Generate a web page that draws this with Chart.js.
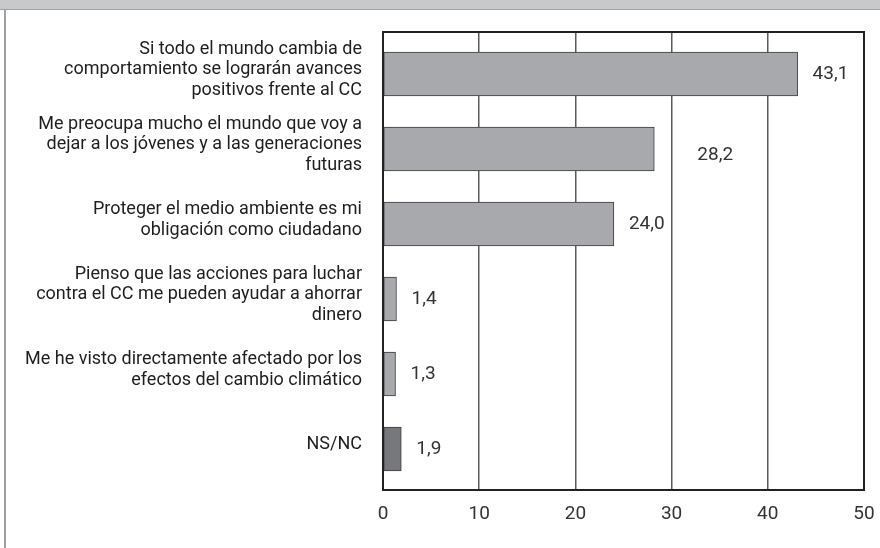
<!DOCTYPE html>
<html><head><meta charset="utf-8">
<script src="https://cdn.jsdelivr.net/npm/chart.js@4/dist/chart.umd.min.js"></script>
<style>
html,body{margin:0;padding:0;background:#fff;}
#wrap{position:relative;width:880px;height:548px;overflow:hidden;}
#band{position:absolute;left:0;top:0;width:880px;height:9px;background:#c8c9cb;border-bottom:1px solid #9fa0a2;}
#side{position:absolute;left:4px;top:10px;width:2px;height:538px;background:#a0a0a0;}
canvas{position:absolute;left:0;top:0;}
</style></head><body>
<div id="wrap"><canvas id="c" width="880" height="548" style="width:880px;height:548px"></canvas><div id="band"></div><div id="side"></div></div>
<script>
const categories = [
  ["Si todo el mundo cambia de", "comportamiento se lograrán avances", "positivos frente al CC"],
  ["Me preocupa mucho el mundo que voy a", "dejar a los jóvenes y a las generaciones", "futuras"],
  ["Proteger el medio ambiente es mi", "obligación como ciudadano"],
  ["Pienso que las acciones para luchar", "contra el CC me pueden ayudar a ahorrar", "dinero"],
  ["Me he visto directamente afectado por los", "efectos del cambio climático"],
  "NS/NC"
];
const values = [43.1, 28.2, 24.0, 1.4, 1.3, 1.9];
const valueLabels = ["43,1", "28,2", "24,0", "1,4", "1,3", "1,9"];
const xMin = 0, xMax = 50, xStep = 10;

const FONT = "Roboto, 'Liberation Sans', sans-serif";

const framePlugin = {
  id: 'frame',
  afterDraw(chart) {
    const a = chart.chartArea, ctx = chart.ctx;
    ctx.save();
    ctx.strokeStyle = '#222';
    ctx.lineWidth = 2;
    ctx.strokeRect(a.left, a.top, a.right - a.left, a.bottom - a.top);
    ctx.restore();
  }
};

const valueLabelPlugin = {
  id: 'valueLabels',
  afterDatasetsDraw(chart, args, opts) {
    const ctx = chart.ctx;
    const meta = chart.getDatasetMeta(0);
    ctx.save();
    ctx.font = "19px " + FONT;
    ctx.fillStyle = '#333';
    ctx.textAlign = 'left';
    ctx.textBaseline = 'middle';
    meta.data.forEach((el, i) => {
      const sh = (opts.shift && opts.shift[i]) || [0, 0];
      ctx.fillText(valueLabels[i], el.x + opts.gap + sh[0], el.y + sh[1]);
    });
    ctx.restore();
  }
};

new Chart(document.getElementById('c'), {
  type: 'bar',
  data: {
    datasets: [{
      data: values.map((v, i) => ({ x: v, y: i })),
      backgroundColor: values.map((v, i) => i === values.length - 1 ? '#77787b' : '#a7a9ac'),
      borderColor: '#3c3c3c',
      borderWidth: 1,
      borderSkipped: false,
      barThickness: 44
    }]
  },
  plugins: [framePlugin, valueLabelPlugin],
  options: {
    indexAxis: 'y',
    responsive: false,
    animation: false,
    layout: { padding: { left: 0, right: 16, top: 32, bottom: 0 } },
    plugins: {
      legend: { display: false },
      tooltip: { enabled: false },
      valueLabels: { gap: 15, shift: { 1: [28, 6] } }
    },
    scales: {
      x: {
        type: 'linear', position: 'bottom', min: xMin, max: xMax,
        ticks: { stepSize: xStep, font: { family: FONT, size: 19 }, color: '#333', padding: 13 },
        grid: { color: '#5a5a5a', lineWidth: 1.5, drawTicks: false },
        border: { display: true, color: '#222', width: 2 },
        afterFit(s) { s.height = 58; s.paddingLeft = 0; s.paddingRight = 0; }
      },
      y: {
        type: 'linear', reverse: true, offset: false, min: -0.56, max: 5.547,
        afterBuildTicks(s) { s.ticks = categories.map((c, i) => ({ value: i })); },
        ticks: {
          autoSkip: false,
          callback: (v) => categories[v],
          font: { family: FONT, size: 18, lineHeight: 1.13 },
          color: '#1e1e1e', padding: 21, labelOffset: -4
        },
        grid: { display: false, drawTicks: false, offset: false },
        border: { display: true, color: '#222', width: 2 },
        afterFit(s) { s.width = 383; s.paddingTop = 0; s.paddingBottom = 0; }
      }
    }
  }
});
</script>
</body></html>
